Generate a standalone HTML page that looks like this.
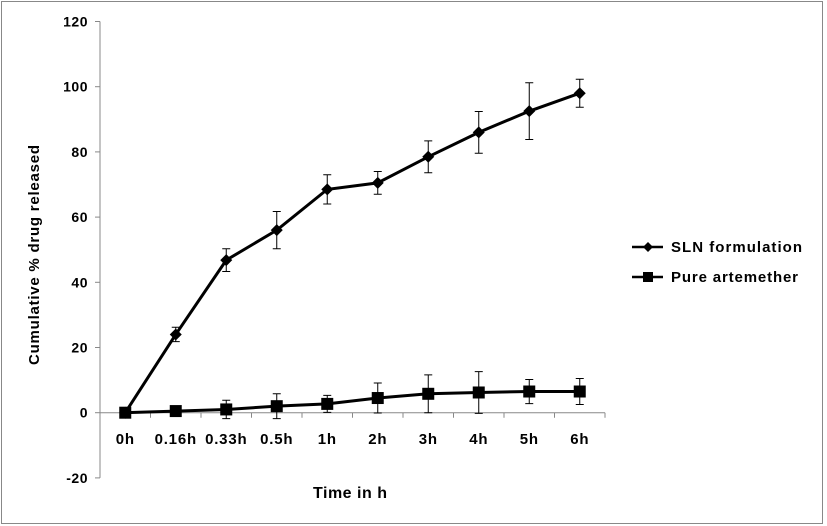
<!DOCTYPE html>
<html><head><meta charset="utf-8"><style>
html,body{margin:0;padding:0;background:#fff;}
svg{display:block;font-family:"Liberation Sans",Arial,sans-serif;}
</style></head><body>
<svg id="chart" width="827" height="526">
<rect x="1.5" y="1.5" width="821" height="522" fill="#fff" stroke="#888"/>
<g id="plot"></g>
<text x="39" y="255" transform="rotate(-90 39 255)" text-anchor="middle" font-size="15" font-weight="bold" textLength="220" lengthAdjust="spacing">Cumulative % drug released</text>
<text x="350" y="498" text-anchor="middle" font-size="16" font-weight="bold" textLength="74" lengthAdjust="spacing">Time in h</text>
<g>
<g>
<line x1="632" y1="247" x2="663" y2="247" stroke="#000" stroke-width="2.5"/>
<path d="M648 242 L653 247 L648 252 L643 247 Z" fill="#000"/>
<text x="671" y="252" font-size="15" font-weight="bold" textLength="131" lengthAdjust="spacing">SLN formulation</text>
</g>
<g>
<line x1="632" y1="277" x2="663" y2="277" stroke="#000" stroke-width="2.5"/>
<rect x="643" y="272" width="10" height="10" fill="#000"/>
<text x="671" y="282" font-size="15" font-weight="bold" textLength="127" lengthAdjust="spacing">Pure artemether</text>
</g>
</g>
</svg>
<script>
const categories = ["0h","0.16h","0.33h","0.5h","1h","2h","3h","4h","5h","6h"];
const slnValues = [0,24,46.8,56,68.5,70.5,78.5,86,92.5,98];
const slnErrors = [0,2.2,3.5,5.7,4.5,3.5,4.9,6.4,8.7,4.3];
const pureValues = [0,0.5,1,2,2.7,4.5,5.8,6.2,6.5,6.5];
const pureErrors = [0,0.5,2.8,3.8,2.6,4.6,5.8,6.4,3.7,4];
const yTicks = [-20,0,20,40,60,80,100,120];

const NS = "http://www.w3.org/2000/svg";
const plot = document.getElementById("plot");
const x0 = 100, x1 = 605;
const band = (x1 - x0) / categories.length;
const xPos = i => x0 + band * (i + 0.5);
const yPos = v => 412.7 - v * (326 / 100);
function mk(tag, attrs, parent) {
  const e = document.createElementNS(NS, tag);
  for (const k in attrs) e.setAttribute(k, attrs[k]);
  (parent || plot).appendChild(e);
  return e;
}
let ax = mk("line", {x1: x0, y1: yPos(120), x2: x0, y2: yPos(-20), stroke: "#888", "stroke-width": 1});


yTicks.forEach(t => {
  mk("line", {x1: x0 - 5, y1: yPos(t), x2: x0, y2: yPos(t), stroke: "#888"});
  const tx = mk("text", {x: x0 - 12, y: yPos(t) + 5, "text-anchor": "end", "font-size": 14, "font-weight": "bold", "letter-spacing": 0.5});
  tx.textContent = t;
  
  
});
let xa = mk("line", {x1: x0, y1: yPos(0), x2: x1, y2: yPos(0), stroke: "#888", "stroke-width": 1});


for (let i = 0; i <= categories.length; i++) {
  const xx = x0 + band * i;
  mk("line", {x1: xx, y1: yPos(0), x2: xx, y2: yPos(0) + 5, stroke: "#888"});
}
categories.forEach((c, i) => {
  const tx = mk("text", {x: xPos(i), y: 444, "text-anchor": "middle", "font-size": 15, "font-weight": "bold", "letter-spacing": 0.8});
  tx.textContent = c;
  
  
});
function series(vals, errs, marker, name) {
  const g = mk("g", {});
  
  
  vals.forEach((v, i) => {
    if (!errs[i]) return;
    const x = xPos(i), yt = yPos(v + errs[i]), yb = yPos(v - errs[i]);
    const e = mk("path", {d: `M${x} ${yt}V${yb}M${x-4} ${yt}H${x+4}M${x-4} ${yb}H${x+4}`, stroke: "#000", "stroke-width": 1, fill: "none"}, g);
    
    
  });
  const pts = vals.map((v, i) => xPos(i) + "," + yPos(v)).join(" ");
  const l = mk("polyline", {points: pts, fill: "none", stroke: "#000", "stroke-width": 3}, g);
  
  
  vals.forEach((v, i) => {
    const x = xPos(i), y = yPos(v);
    let m;
    if (marker === "diamond") m = mk("path", {d: `M${x} ${y-6}L${x+6} ${y}L${x} ${y+6}L${x-6} ${y}Z`, fill: "#000"}, g);
    else m = mk("rect", {x: x - 6, y: y - 6, width: 12, height: 12, fill: "#000"}, g);
    
    
  });
}
series(pureValues, pureErrors, "square", "pure-artemether");
series(slnValues, slnErrors, "diamond", "sln-formulation");
</script>
</body></html>
